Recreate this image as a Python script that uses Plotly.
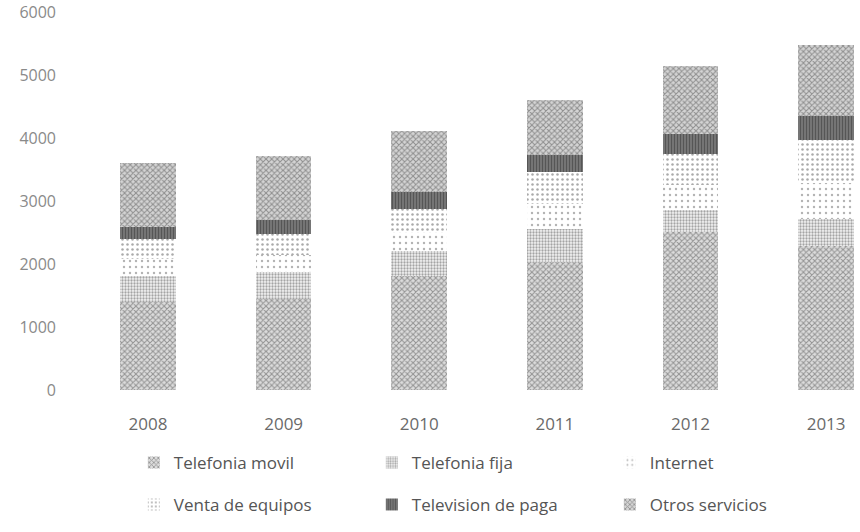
import plotly.graph_objects as go

years = ["2008", "2009", "2010", "2011", "2012", "2013"]
y_ticks = [0, 1000, 2000, 3000, 4000, 5000, 6000]

telefonia_movil = [1390, 1440, 1810, 2030, 2510, 2290]
telefonia_fija = [420, 430, 400, 530, 340, 430]
internet = [270, 280, 300, 400, 400, 560]
venta_equipos = [320, 330, 370, 500, 500, 690]
television_paga = [190, 220, 270, 270, 320, 380]
otros_servicios = [1010, 1010, 960, 880, 1070, 1120]

series = [
    ("Telefonia movil", telefonia_movil, dict(shape="x", size=4, solidity=0.45, fgcolor="#4a4a4a", bgcolor="#dcdcdc"), "legend"),
    ("Telefonia fija", telefonia_fija, dict(shape=".", size=3, solidity=0.45, fgcolor="#555555", bgcolor="#f2f2f2"), "legend"),
    ("Internet", internet, dict(shape=".", size=6, solidity=0.12, fgcolor="#666666", bgcolor="#ffffff"), "legend"),
    ("Venta de equipos", venta_equipos, dict(shape=".", size=5, solidity=0.2, fgcolor="#555555", bgcolor="#ffffff"), "legend2"),
    ("Television de paga", television_paga, dict(shape="|", size=3, solidity=0.6, fgcolor="#222222", bgcolor="#8a8a8a"), "legend2"),
    ("Otros servicios", otros_servicios, dict(shape="x", size=4, solidity=0.45, fgcolor="#4a4a4a", bgcolor="#d4d4d4"), "legend2"),
]

x_idx = list(range(len(years)))

fig = go.Figure()
for name, vals, pat, lg in series:
    fig.add_trace(go.Bar(
        x=x_idx, y=vals, name=name, width=0.41,
        marker=dict(color=pat["bgcolor"], pattern=pat, line=dict(width=0)),
        legend=lg,
    ))

font_family = "Open Sans, Liberation Sans, sans-serif"
leg_font = dict(size=17, color="#555555", family=font_family)
fig.update_layout(
    barmode="stack",
    width=860, height=532,
    margin=dict(l=85, r=0, t=12, b=142),
    paper_bgcolor="white", plot_bgcolor="white",
    font=dict(family=font_family, color="#6a6a6a", size=16),
    xaxis=dict(range=[-0.4646, 5.25], tickvals=x_idx, ticktext=years,
               showgrid=False, showline=False, zeroline=False, ticks="",
               ticklabelstandoff=22, tickfont=dict(size=17, color="#6a6a6a")),
    yaxis=dict(range=[0, 6000], tickvals=y_ticks, ticktext=[str(v) for v in y_ticks],
               showgrid=False, showline=False, zeroline=False, ticks="",
               ticklabelstandoff=28, tickfont=dict(size=16, color="#8a8a8a")),
    legend=dict(orientation="h", x=0.063, y=-0.193, xanchor="left", yanchor="middle",
                entrywidth=193, font=leg_font, traceorder="normal",
                bgcolor="rgba(0,0,0,0)"),
    legend2=dict(orientation="h", x=0.063, y=-0.304, xanchor="left", yanchor="middle",
                 entrywidth=193, font=leg_font, traceorder="normal",
                 bgcolor="rgba(0,0,0,0)"),
    showlegend=True,
)

fig.write_html("out.html", config={"displayModeBar": False},
               post_script="document.body.style.margin='0';")
